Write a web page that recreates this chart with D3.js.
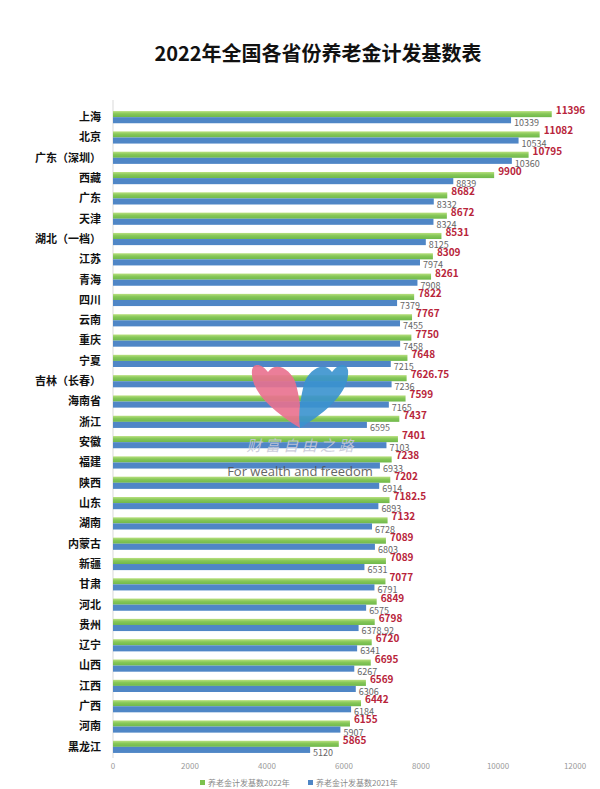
<!DOCTYPE html>
<html>
<head>
<meta charset="utf-8">
<script src="https://cdn.jsdelivr.net/npm/d3@7"></script>
<style>
	body { margin: 0; background: #fff; }
	svg { display: block; font-family: "Noto Sans CJK SC", "Noto Sans", sans-serif; }
</style>
</head>
<body>
<svg width="600" height="789"></svg>
<script>
// provinces, top to bottom
var provinces = ["上海", "北京", "广东（深圳）", "西藏", "广东", "天津", "湖北（一档）", "江苏", "青海", "四川",
	"云南", "重庆", "宁夏", "吉林（长春）", "海南省", "浙江", "安徽", "福建", "陕西", "山东",
	"湖南", "内蒙古", "新疆", "甘肃", "河北", "贵州", "辽宁", "山西", "江西", "广西", "河南", "黑龙江"];
var base2022 = [11396, 11082, 10795, 9900, 8682, 8672, 8531, 8309, 8261, 7822,
	7767, 7750, 7648, 7626.75, 7599, 7437, 7401, 7238, 7202, 7182.5,
	7132, 7089, 7089, 7077, 6849, 6798, 6720, 6695, 6569, 6442, 6155, 5865];
var base2021 = [10339, 10534, 10360, 8839, 8332, 8324, 8125, 7974, 7908, 7379,
	7455, 7458, 7215, 7236, 7165, 6595, 7103, 6933, 6914, 6893,
	6728, 6803, 6531, 6791, 6575, 6378.92, 6341, 6267, 6306, 6184, 5907, 5120];
var xTicks = [0, 2000, 4000, 6000, 8000, 10000, 12000];
var seriesNames = ["养老金计发基数2022年", "养老金计发基数2021年"];
var seriesColors = ["#7dc24e", "#4f86c6"];

var data = provinces.map(function(p, i) {
	return { name: p, v22: base2022[i], v21: base2021[i] };
});

var svg = d3.select("svg");

var x = d3.scaleLinear().domain([0, 12000]).range([113, 575]);
var y = d3.scaleBand().domain(provinces).range([107, 757]).paddingInner(0.4).paddingOuter(0.2);
var sub = d3.scaleBand().domain(["v22", "v21"]).range([0, y.bandwidth()]);

// green gradient (lighter top edge)
var defs = svg.append("defs");
var grad = defs.append("linearGradient").attr("id", "gGreen")
	.attr("x1", 0).attr("y1", 0).attr("x2", 0).attr("y2", 1);
grad.append("stop").attr("offset", "0%").attr("stop-color", "#b9e07f");
grad.append("stop").attr("offset", "45%").attr("stop-color", "#86c758");
grad.append("stop").attr("offset", "100%").attr("stop-color", "#6fb84a");

// title
svg.append("text")
	.attr("x", 318).attr("y", 61)
	.attr("text-anchor", "middle")
	.style("font-size", "20px").style("font-weight", "bold").style("fill", "#111")
	.text("2022年全国各省份养老金计发基数表");

// faint left axis line
svg.append("line")
	.attr("x1", x(0)).attr("x2", x(0))
	.attr("y1", 100).attr("y2", 758)
	.attr("stroke", "#d9d9d9");

var rows = svg.selectAll(".row")
	.data(data)
	.enter().append("g")
	.attr("class", "row")
	.attr("transform", function(d) { return "translate(0," + y(d.name) + ")"; });

rows.append("rect")
	.attr("x", x(0))
	.attr("y", sub("v22"))
	.attr("height", sub.bandwidth())
	.attr("width", function(d) { return x(d.v22) - x(0); })
	.attr("fill", "url(#gGreen)");

rows.append("rect")
	.attr("x", x(0))
	.attr("y", sub("v21"))
	.attr("height", sub.bandwidth())
	.attr("width", function(d) { return x(d.v21) - x(0); })
	.attr("fill", seriesColors[1]);

// category labels
rows.append("text")
	.attr("x", 101)
	.attr("y", y.bandwidth() / 2)
	.attr("dy", "0.35em")
	.attr("text-anchor", "end")
	.style("font-size", "11px").style("font-weight", "bold").style("fill", "#111")
	.text(function(d) { return d.name; });

// 2021 value labels (grey)
rows.append("text")
	.attr("x", function(d) { return x(d.v21) + 3; })
	.attr("y", sub("v21") + sub.bandwidth() + 3)
	.style("font-size", "9px").style("fill", "#666")
	.text(function(d) { return d.v21; });

// 2022 value labels (red)
rows.append("text")
	.attr("x", function(d) { return x(d.v22) + 4; })
	.attr("y", sub("v22") + 3)
	.style("font-size", "10px").style("font-weight", "bold").style("fill", "#b8243a")
	.text(function(d) { return d.v22; });

// x axis tick labels
svg.selectAll(".xt")
	.data(xTicks)
	.enter().append("text")
	.attr("class", "xt")
	.attr("x", function(d) { return x(d); })
	.attr("y", 769)
	.attr("text-anchor", "middle")
	.style("font-size", "8px").style("fill", "#9a9a9a")
	.text(function(d) { return d; });

// watermark
var wm = svg.append("g").attr("opacity", 0.9);
wm.append("path")
	.attr("d", "M300,428 C270,410 250,390 252,370 C254,362 262,364 268,372 C276,360 292,370 296,384 C300,400 302,415 300,428 Z")
	.attr("fill", "#e9718f");
wm.append("path")
	.attr("d", "M300,428 C330,410 350,390 348,370 C346,362 338,364 332,372 C324,360 308,370 304,384 C300,400 298,415 300,428 Z")
	.attr("fill", "#3a93cf");
wm.append("text")
	.attr("x", 300).attr("y", 451)
	.attr("text-anchor", "middle")
	.style("font-size", "15px").style("fill", "#c8c8d8").style("font-style", "italic")
	.text("财 富 自 由 之 路");
wm.append("text")
	.attr("x", 300).attr("y", 476)
	.attr("text-anchor", "middle")
	.style("font-family", "Open Sans, sans-serif")
	.style("font-size", "13px").style("fill", "#555")
	.text("For wealth and freedom");

// legend along the bottom edge
var legend = svg.selectAll(".lg")
	.data(seriesNames)
	.enter().append("g")
	.attr("class", "lg")
	.attr("transform", function(d, i) { return "translate(" + (200 + i * 108) + ",781)"; });
legend.append("rect")
	.attr("width", 5).attr("height", 5).attr("y", -1)
	.attr("fill", function(d, i) { return seriesColors[i]; });
legend.append("text")
	.attr("x", 8).attr("y", 5)
	.style("font-size", "8px").style("fill", "#888")
	.text(function(d) { return d; });
</script>
</body>
</html>
